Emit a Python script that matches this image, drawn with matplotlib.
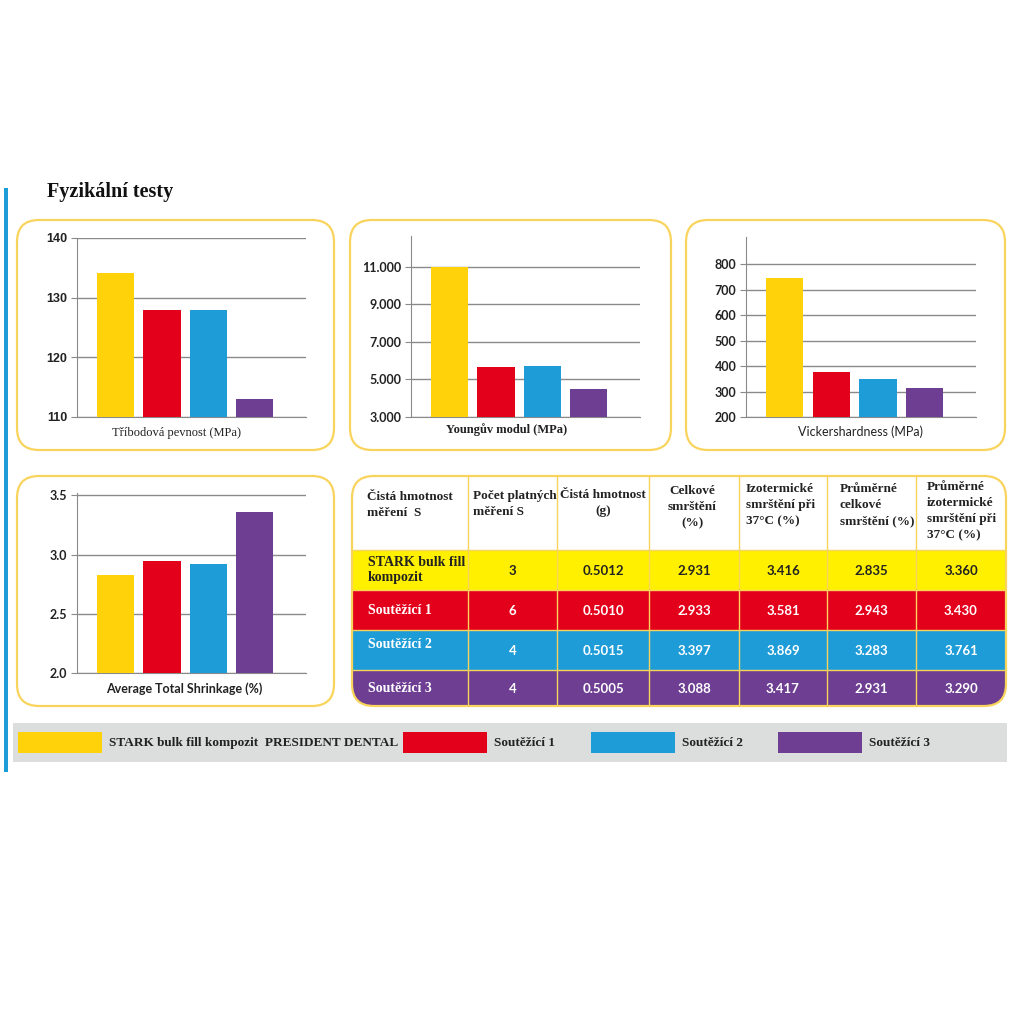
import matplotlib.pyplot as plt
from matplotlib.patches import FancyBboxPatch, Rectangle
from matplotlib.ticker import FuncFormatter

# data
materials = ["STARK bulk fill kompozit  PRESIDENT DENTAL", "Soutěžící 1", "Soutěžící 2", "Soutěžící 3"]
bar_colors = ["#ffd20a", "#e3001b", "#1e9cd7", "#6d3e91"]
row_colors = ["#fff000", "#e3001b", "#1e9cd7", "#6d3e91"]

flexural = [134.1, 128.0, 127.9, 113.0]
young = [11000, 5650, 5700, 4500]
vickers = [747, 375, 350, 312]
shrinkage = [2.83, 2.95, 2.92, 3.36]

table_headers = ["Čistá hmotnost\nměření  S", "Počet platných\nměření S", "Čistá hmotnost\n(g)",
                 "Celkové\nsmrštění\n(%)", "Izotermické\nsmrštění při\n37°C (%)",
                 "Průměrné\ncelkové\nsmrštění (%)", "Průměrné\nizotermické\nsmrštění při\n37°C (%)"]
row_names = ["STARK bulk fill\nkompozit", "Soutěžící 1", "Soutěžící 2", "Soutěžící 3"]
valid_counts = ["3", "6", "4", "4"]
net_mass = ["0.5012", "0.5010", "0.5015", "0.5005"]
total_shrink = ["2.931", "2.933", "3.397", "3.088"]
iso_shrink = ["3.416", "3.581", "3.869", "3.417"]
avg_total = ["2.835", "2.943", "3.283", "2.931"]
avg_iso = ["3.360", "3.430", "3.761", "3.290"]

W = 1024
SERIF = "Liberation Serif"
SANS = "Lato"
EDGE = "#f9d45c"


def fr(x0, y0, x1, y1):
    return [x0 / W, 1 - y1 / W, (x1 - x0) / W, (y1 - y0) / W]


fig = plt.figure(figsize=(10.24, 10.24), dpi=100)
bg = fig.add_axes([0, 0, 1, 1])
bg.set_xlim(0, W)
bg.set_ylim(W, 0)
bg.axis("off")

# left accent line and title
bg.add_patch(Rectangle((4, 188), 4, 584, color="#1e9cd7", lw=0))
bg.text(47, 192, "Fyzikální testy", family=SERIF, weight="bold", fontsize=14.5, va="center", color="#111")

# panel frames
for (x0, y0, x1, y1) in [(17, 220, 334, 450), (350, 220, 671, 450), (686, 220, 1005, 450), (17, 476, 334, 706)]:
    bg.add_patch(FancyBboxPatch((x0, y0), x1 - x0, y1 - y0, boxstyle="round,pad=0,rounding_size=22",
                                fc="white", ec=EDGE, lw=1.6))


def bar_panel(rect, values, ylim, ticks, fmt, tick_font, label, label_xy, label_font, label_weight):
    ax = fig.add_axes(fr(*rect))
    ax.set_facecolor("none")
    ax.bar(range(len(values)), values, width=0.8, color=bar_colors, zorder=3)
    ax.set_xlim(-0.83, 4.1)
    ax.set_ylim(*ylim)
    ax.set_yticks(ticks)
    ax.yaxis.set_major_formatter(FuncFormatter(fmt))
    ax.set_xticks([])
    ax.grid(axis="y", color="#8a8a8a", lw=1, zorder=0)
    for s in ["top", "right"]:
        ax.spines[s].set_visible(False)
    ax.spines["left"].set_color("#8a8a8a")
    ax.spines["bottom"].set_color("#8a8a8a")
    ax.tick_params(axis="y", length=4, color="#8a8a8a", pad=3)
    for t in ax.get_yticklabels():
        t.set_family(tick_font)
        t.set_weight("bold")
        t.set_fontsize(9)
        t.set_color("#222")
    bg.text(label_xy[0], label_xy[1], label, family=label_font, weight=label_weight, fontsize=9,
            ha="center", va="center", color="#222")
    return ax


bar_panel((77, 238, 306, 417), flexural, (110, 140), [110, 120, 130, 140], lambda v, p: f"{v:.0f}",
          "Liberation Sans", "Tříbodová pevnost (MPa)", (176, 433), SERIF, "normal")
bar_panel((411, 236, 640, 417), young, (3000, 12650), [3000, 5000, 7000, 9000, 11000],
          lambda v, p: f"{v:,.0f}".replace(",", "."), SANS, "Youngův modul (MPa)", (507, 430), SERIF, "bold")
bar_panel((746, 237, 976, 417), vickers, (200, 906), [200, 300, 400, 500, 600, 700, 800],
          lambda v, p: f"{v:.0f}", SANS, "Vickershardness (MPa)", (860, 432), SANS, "normal")
bar_panel((77, 493, 306, 673), shrinkage, (2.0, 3.52), [2.0, 2.5, 3.0, 3.5],
          lambda v, p: f"{v:.1f}", SANS, "Average Total Shrinkage (%)", (184, 689), SANS, "bold")

# table
tx0, ty0, tx1, ty1 = 352, 476, 1006, 706
col_edges = [tx0, 468, 557, 649, 739, 827, 916, tx1]
row_edges = [ty0, 550, 590, 630, 670, ty1]
clip = FancyBboxPatch((tx0, ty0), tx1 - tx0, ty1 - ty0, boxstyle="round,pad=0,rounding_size=22",
                      fc="white", ec="none", transform=bg.transData)
bg.add_patch(clip)
for r in range(4):
    band = Rectangle((tx0, row_edges[r + 1]), tx1 - tx0, row_edges[r + 2] - row_edges[r + 1],
                     fc=row_colors[r], ec="none")
    bg.add_patch(band)
    band.set_clip_path(clip)
for x in col_edges[1:-1]:
    bg.plot([x, x], [ty0, ty1], color=EDGE, lw=1)
for y in row_edges[1:-1]:
    line = bg.plot([tx0, tx1], [y, y], color=EDGE, lw=1)[0]
    line.set_clip_path(clip)
bg.add_patch(FancyBboxPatch((tx0, ty0), tx1 - tx0, ty1 - ty0, boxstyle="round,pad=0,rounding_size=22",
                            fc="none", ec=EDGE, lw=1.6))

# header cells
header_pos = [(367, "left", 491), (473, "left", 490), (603, "center", 489), (692, "center", 485),
              (746, "left", 483), (840, "left", 483), (927, "left", 481)]
for (x, ha, y), txt in zip(header_pos, table_headers):
    bg.text(x, y, txt, family=SERIF, weight="bold", fontsize=9.5, ha=ha, va="top",
            color="#222", linespacing=1.45, multialignment="center" if ha == "center" else "left")

# body cells
columns = [valid_counts, net_mass, total_shrink, iso_shrink, avg_total, avg_iso]
for r in range(4):
    yc = (row_edges[r + 1] + row_edges[r + 2]) / 2
    fg = "#222" if r == 0 else "white"
    bg.text(368, yc - (5 if r == 2 else 0), row_names[r], family=SERIF, weight="bold", fontsize=10,
            ha="left", va="center", color=fg, linespacing=1.1)
    for c, col in enumerate(columns):
        xc = (col_edges[c + 1] + col_edges[c + 2]) / 2
        bg.text(xc, yc + 1, col[r], family=SANS, weight="bold", fontsize=9.5, ha="center", va="center", color=fg)

# legend band
bg.add_patch(Rectangle((13, 723), 994, 39, fc="#dcdddd", ec="none"))
swatch_x = [18, 403, 591, 778]
for x, col, name in zip(swatch_x, bar_colors, materials):
    bg.add_patch(Rectangle((x, 732), 84, 21, fc=col, ec="none"))
    bg.text(x + 91, 743, name, family=SERIF, weight="bold", fontsize=9.5, ha="left", va="center", color="#222")

fig.savefig("out.png", dpi=100)
